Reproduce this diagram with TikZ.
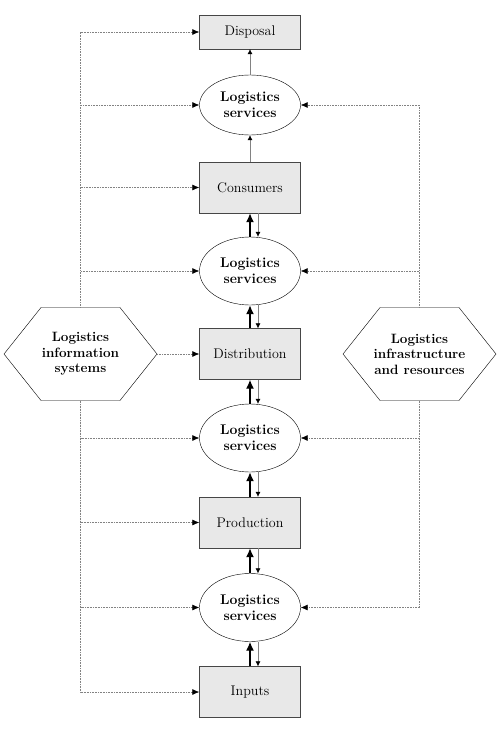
\documentclass[tikz,border=0pt]{standalone}
\usepackage{tikz}
\usetikzlibrary{arrows.meta,positioning,shapes.geometric,shapes.symbols}
\definecolor{corcaixa}{RGB}{232,232,232}
\definecolor{corpontos}{RGB}{130,130,130}
\definecolor{corborda}{RGB}{70,70,70}
\newcommand{\linhahex}[1]{\makebox[79pt]{#1}}

\begin{document}
\begin{tikzpicture}[
  x=1pt, y=-1pt,
  etapa/.style={rectangle, draw=corborda, fill=corcaixa, minimum width=101pt,
                minimum height=51pt, font=\fontsize{14}{16}\selectfont},
  servico/.style={ellipse, draw=black, fill=white, minimum width=101pt,
                  minimum height=68pt, inner sep=0pt, align=center,
                  font=\fontsize{14}{16}\selectfont\bfseries},
  suporte/.style={signal, signal to=west and east, signal pointer angle=103,
                  draw=black, fill=white, minimum height=93pt,
                  inner sep=0pt, align=center,
                  font=\fontsize{13.5}{15.5}\selectfont\bfseries},
  pontilhado/.style={draw=corpontos, densely dotted, line width=0.6pt,
                     -{Latex[length=7pt,width=6pt,color=black]}},
  fluxo/.style={line width=1.4pt, -{Latex[length=9pt,width=8pt]}},
  retorno/.style={draw=corpontos, line width=0.5pt,
                  -{Latex[length=5pt,width=5pt,color=black]}}
]
  \useasboundingbox (0,0) rectangle (500,733);

  % coluna central
  \node[etapa, minimum height=34pt] (disp) at (250,32) {Disposal};
  \node[servico, minimum height=60pt] (s1) at (250,105) {Logistics\\services};
  \node[etapa] (cons) at (250,187.5) {Consumers};
  \node[servico] (s2) at (250,271) {Logistics\\services};
  \node[etapa] (dist) at (250,354) {Distribution};
  \node[servico] (s3) at (250,438) {Logistics\\services};
  \node[etapa] (prod) at (250,522.5) {Production};
  \node[servico] (s4) at (250,607.5) {Logistics\\services};
  \node[etapa] (inp) at (250,692) {Inputs};

  % suportes laterais
  \node[suporte] (info) at (80.5,354)
    {\linhahex{Logistics}\\\linhahex{information}\\\linhahex{systems}};
  \node[suporte] (infra) at (419.5,354)
    {\linhahex{Logistics}\\\linhahex{infrastructure}\\\linhahex{and resources}};

  % fluxos entre etapas
  \draw[retorno] (s1) -- (disp);
  \draw[retorno] (cons) -- (s1);
  \foreach \de/\para in {s2/cons, dist/s2, s3/dist, prod/s3, s4/prod, inp/s4}
    \draw[fluxo] (\de) -- (\para);
  \foreach \de/\para in {cons/s2, s2/dist, dist/s3, s3/prod, prod/s4, s4/inp}
    \draw[retorno] ([xshift=8pt]\de.south) -- ([xshift=8pt]\para.north);

  % sistemas de informacao
  \foreach \alvo in {disp, s1, cons, s2}
    \draw[pontilhado] (info.north) |- (\alvo.west);
  \foreach \alvo in {s3, prod, s4, inp}
    \draw[pontilhado] (info.south) |- (\alvo.west);
  \draw[pontilhado] (info.east) -- (dist.west);

  % infraestrutura e recursos
  \foreach \alvo in {s1, s2}
    \draw[pontilhado] (infra.north) |- (\alvo.east);
  \foreach \alvo in {s3, s4}
    \draw[pontilhado] (infra.south) |- (\alvo.east);
\end{tikzpicture}
\end{document}
